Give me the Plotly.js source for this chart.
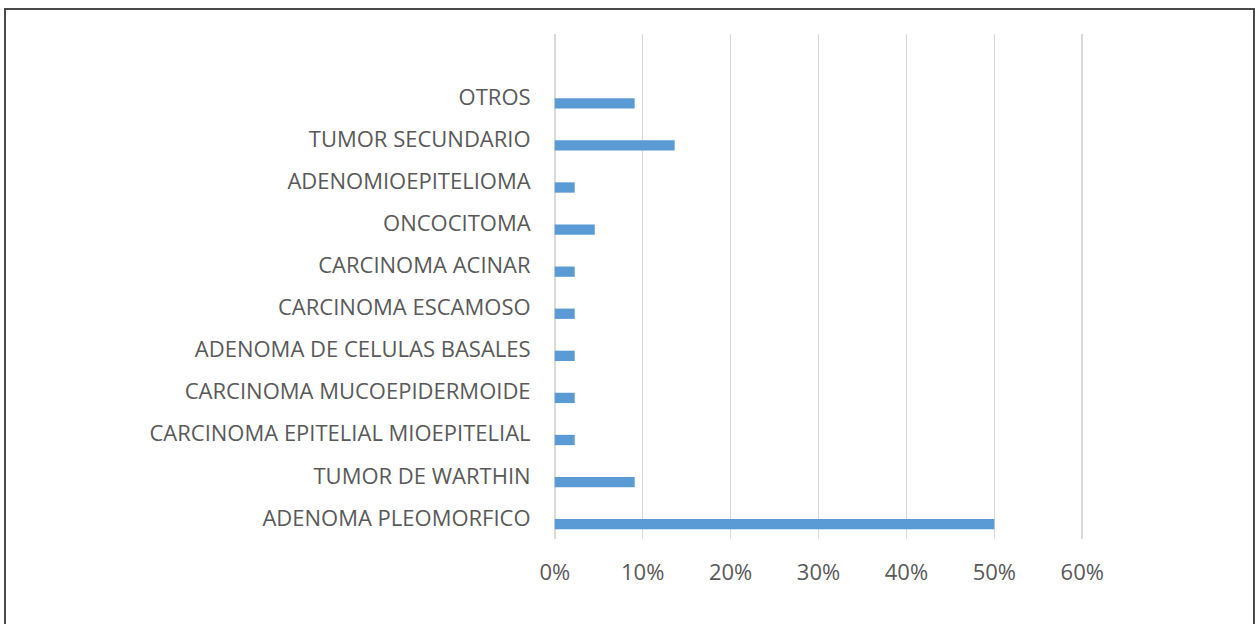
<!DOCTYPE html>
<html>
<head>
<meta charset="utf-8">
<script src="https://cdn.plot.ly/plotly-3.0.1.min.js"></script>
<style>
  html, body { margin: 0; padding: 0; background: #fff; overflow: hidden; }
  #wrap { position: relative; width: 1255px; height: 624px; }
  #chart { position: absolute; left: 0; top: 0; width: 1255px; height: 624px; }
  #frame { position: absolute; left: 4px; top: 8px; width: 1247px; height: 640px;
           border: 2px solid #4a4a4a; pointer-events: none; }
</style>
</head>
<body>
<div id="wrap">
  <div id="chart"></div>
  <div id="frame"></div>
</div>
<script>
// Categories listed bottom to top
const categories = [
  "ADENOMA PLEOMORFICO",
  "TUMOR DE WARTHIN",
  "CARCINOMA EPITELIAL MIOEPITELIAL",
  "CARCINOMA MUCOEPIDERMOIDE",
  "ADENOMA DE CELULAS BASALES",
  "CARCINOMA ESCAMOSO",
  "CARCINOMA ACINAR",
  "ONCOCITOMA",
  "ADENOMIOEPITELIOMA",
  "TUMOR SECUNDARIO",
  "OTROS"
];
const values = [0.5, 0.0909, 0.0227, 0.0227, 0.0227, 0.0227, 0.0227, 0.0455, 0.0227, 0.1364, 0.0909];
const tickValues = [0, 0.1, 0.2, 0.3, 0.4, 0.5, 0.6];
const tickLabels = ["0%", "10%", "20%", "30%", "40%", "50%", "60%"];

const trace = {
  type: "bar",
  orientation: "h",
  y: categories,
  x: values,
  width: 0.245,
  offset: -0.27,
  marker: { color: "#5B9BD5" },
  hoverinfo: "none"
};

const layout = {
  width: 1255,
  height: 624,
  margin: { l: 553, r: 171, t: 34, b: 85, pad: 0 },
  paper_bgcolor: "rgba(0,0,0,0)",
  plot_bgcolor: "#ffffff",
  showlegend: false,
  font: { family: "Open Sans, Lato, sans-serif", size: 22, color: "#595959" },
  xaxis: {
    range: [-0.002, 0.602],
    tickvals: tickValues,
    ticktext: tickLabels,
    showgrid: true,
    gridcolor: "#D9D9D9",
    gridwidth: 1.5,
    zeroline: true,
    zerolinecolor: "#D9D9D9",
    zerolinewidth: 1.5,
    showline: false,
    ticks: "outside",
    ticklen: 14,
    tickcolor: "rgba(0,0,0,0)",
    fixedrange: true
  },
  yaxis: {
    type: "category",
    categoryorder: "array",
    categoryarray: categories,
    range: [-0.5, 11.5],
    showgrid: false,
    zeroline: false,
    showline: false,
    ticks: "outside",
    ticklen: 17,
    tickcolor: "rgba(0,0,0,0)",
    fixedrange: true
  }
};

Plotly.newPlot("chart", [trace], layout, { staticPlot: true, displayModeBar: false });
</script>
</body>
</html>
